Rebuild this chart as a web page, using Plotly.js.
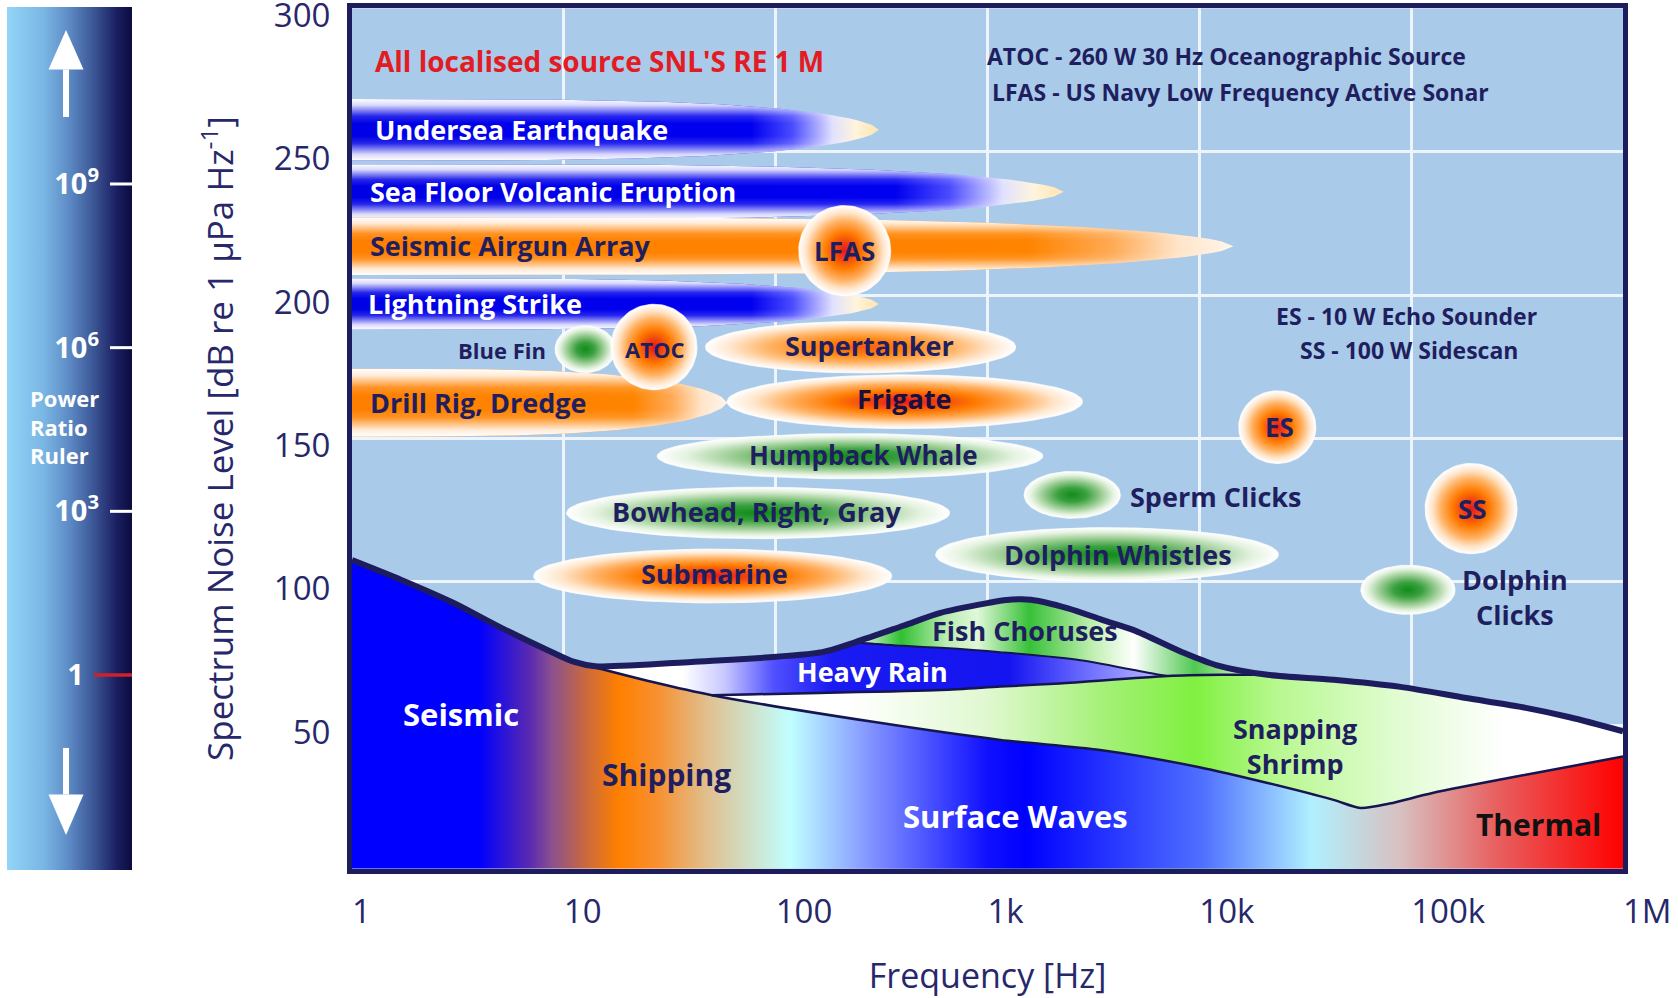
<!DOCTYPE html>
<html><head><meta charset="utf-8">
<script src="https://cdn.plot.ly/plotly-3.0.1.min.js"></script>
<style>html,body{margin:0;padding:0;background:#fff;}#chart{width:1678px;height:998px;}</style>
</head><body><div id="chart"></div>
<script>
// ================= DATA =================
const freqTicks = [1, 10, 100, 1000, 10000, 100000, 1000000];
const freqTickLabels = ['1', '10', '100', '1k', '10k', '100k', '1M'];
const levelTicks = [50, 100, 150, 200, 250, 300];

// upper envelope of ambient noise (thick line)
const envelopeFreq = [1, 1.72, 2.95, 5.1, 8.8, 11.2, 14.1, 40, 166, 240, 400, 600, 1000, 1230, 1600, 2400, 3500, 4900, 8300, 12000, 21000, 43000, 89000, 182000, 324000, 560000, 1000000];
const envelopeLevel = [107.6, 100.6, 93.0, 83.9, 75.5, 72.1, 70.6, 72.1, 75.5, 79.1, 84.7, 89.2, 92.6, 93.7, 93.8, 90.8, 86.7, 83.2, 75.5, 71.0, 67.6, 65.9, 63.4, 59.5, 56.5, 52.8, 47.9];

// top of seismic / shipping / surface waves / thermal
const baseFreq = [1, 1.72, 2.95, 5.1, 8.8, 11.2, 26.3, 50, 288, 1150, 3400, 10000, 21000, 43000, 57500, 79000, 126000, 380000, 1000000];
const baseLevel = [107.6, 100.6, 93.0, 83.9, 75.5, 72.1, 65.1, 60.5, 51.2, 44.9, 41.4, 35.4, 29.9, 24.0, 21.2, 22.7, 26.4, 33.3, 39.1];

// heavy rain lower edge (continues as snapping shrimp upper edge)
const rainLowFreq = [50, 141, 603, 1150, 2190, 7100, 12600, 21000];
const rainLowLevel = [60.5, 61.2, 62.3, 63.5, 64.6, 67.2, 67.6, 67.6];
// heavy rain upper edge under fish choruses
const rainHighFreq = [240, 400, 600, 1150, 2750, 6460, 7100];
const rainHighLevel = [78.9, 77.7, 77.0, 75.5, 72.7, 67.6, 67.2];

// broadband sources (extend from the left edge)
const bandNames = ['Undersea Earthquake', 'Sea Floor Volcanic Eruption', 'Seismic Airgun Array', 'Lightning Strike', 'Drill Rig, Dredge'];
const bandTipFreq = [307, 2290, 14500, 307, 59];
const bandLevelLow = [246.9, 226.3, 207.0, 187.9, 150.6];
const bandLevelHigh = [268.4, 245.7, 227.1, 205.9, 174.4];
const bandKind = ['natural', 'natural', 'man', 'natural', 'man'];

// localised sources
const srcNames = ['Blue Fin', 'ATOC', 'LFAS', 'Supertanker', 'Frigate', 'Humpback Whale', 'Bowhead, Right, Gray', 'Submarine', 'Sperm Clicks', 'Dolphin Whistles', 'ES', 'SS', 'Dolphin Clicks'];
const srcFreqLow = [9.1, 16.7, 128.5, 46.6, 58.9, 27.6, 10.3, 7.2, 1489, 569, 15350, 116400, 57900];
const srcFreqHigh = [17.5, 42.5, 349, 1361, 2805, 1824, 662, 353, 4236, 23600, 35480, 316000, 161100];
const srcLevelLow = [173.0, 167.0, 199.8, 172.9, 153.5, 136.0, 115.1, 92.7, 122.2, 100.1, 141.3, 109.8, 88.7];
const srcLevelHigh = [189.3, 196.8, 231.2, 190.8, 172.2, 151.7, 133.0, 111.4, 138.5, 118.9, 166.6, 141.3, 105.8];
const srcKind = ['bio', 'man', 'man', 'tanker', 'man', 'bio', 'bio', 'man', 'bio', 'bio', 'man', 'man', 'bio'];

// power ratio ruler
const rulerTicks = [1, 1e3, 1e6, 1e9];
const rulerTickLabels = ['1\u00a0\u00a0', '10<sup>3</sup>', '10<sup>6</sup>', '10<sup>9</sup>'];

// ================= BUILD =================
const L = Math.log10;
const NAVY = '#1f1f5f';
const traces = [];
const base = {type: 'scatter', mode: 'lines', hoverinfo: 'skip', showlegend: false};

// ruler bar
traces.push(Object.assign({}, base, {
  xaxis: 'x2', yaxis: 'y2', x: [0, 1, 1, 0, 0], y: [1e-6, 1e-6, 1e15, 1e15, 1e-6],
  line: {width: 0}, fill: 'toself',
  fillgradient: {type: 'horizontal', colorscale: [[0, '#93d5f8'], [0.3, '#79b5e3'], [0.5, '#5d8ac4'], [0.7, '#3a5494'], [0.88, '#1a1e60'], [1, '#0b0b3d']]}
}));
const wx = [], wy = [];
rulerTicks.slice(1).forEach(t => { wx.push(0.824, 1, null); wy.push(t, t, null); });
traces.push(Object.assign({}, base, {xaxis: 'x2', yaxis: 'y2', x: wx, y: wy, line: {color: '#ffffff', width: 3}}));
traces.push(Object.assign({}, base, {xaxis: 'x2', yaxis: 'y2', x: [0.696, 1], y: [rulerTicks[0], rulerTicks[0]], line: {color: '#d0202a', width: 3.5}}));
// ruler arrows (shaft + head), decoration placed on the ruler's own axes
function arrowTraces(shaftEnd, headBase, tip) {
  const cx = 0.472, hw = 0.14;
  return [
    Object.assign({}, base, {xaxis: 'x2', yaxis: 'y2', x: [cx, cx], y: [Math.pow(10, shaftEnd), Math.pow(10, headBase)], line: {color: '#ffffff', width: 6}}),
    Object.assign({}, base, {xaxis: 'x2', yaxis: 'y2', x: [cx - hw, cx + hw, cx, cx - hw], y: [Math.pow(10, headBase), Math.pow(10, headBase), Math.pow(10, tip), Math.pow(10, headBase)],
      line: {width: 0}, fill: 'toself', fillcolor: '#ffffff'})
  ];
}
arrowTraces(10.228, 11.1, 11.823).forEach(t => traces.push(t));
arrowTraces(-1.337, -2.19, -2.932).forEach(t => traces.push(t));

// composite curves
function pick(fs, ls, cond) { const x = [], y = []; fs.forEach((f, i) => { if (cond(f)) { x.push(f); y.push(ls[i]); } }); return [x, y]; }
const [e1x, e1y] = pick(envelopeFreq, envelopeLevel, f => f < 240);
const [e2x, e2y] = pick(envelopeFreq, envelopeLevel, f => f > 21000);
const [r2x, r2y] = pick(rainLowFreq, rainLowLevel, f => f > 7100);
const c1x = e1x.concat(rainHighFreq, r2x, e2x), c1y = e1y.concat(rainHighLevel, r2y, e2y);
const [b1x, b1y] = pick(baseFreq, baseLevel, f => f < 50);
const c2x = b1x.concat(rainLowFreq, e2x), c2y = b1y.concat(rainLowLevel, e2y);

const spl = {shape: 'spline', smoothing: 0.8, width: 0};
// fish choruses (under envelope)
traces.push(Object.assign({}, base, {x: envelopeFreq, y: envelopeLevel, line: spl, fill: 'tozeroy',
  fillgradient: {type: 'horizontal', colorscale: [[0, '#f0fff0'], [0.397, '#f0fff0'], [0.432, '#30c030'], [0.467, '#b8ecb0'], [0.492, '#e0f8d8'], [0.533, '#38c038'], [0.583, '#c0f0b0'], [0.615, '#ffffff'], [0.663, '#50c850'], [0.692, '#b0e8a0'], [0.72, '#e8f8e0'], [1, '#e8f8e0']]}}));
// heavy rain
traces.push(Object.assign({}, base, {x: c1x, y: c1y, line: spl, fill: 'tozeroy',
  fillgradient: {type: 'horizontal', colorscale: [[0, '#ffffff'], [0.26, '#ffffff'], [0.293, '#c8c8ff'], [0.332, '#5050ff'], [0.378, '#1a1af2'], [0.517, '#1414f0'], [0.58, '#7070ff'], [0.635, '#b8b8ff'], [1, '#b8b8ff']]}}));
// snapping shrimp
traces.push(Object.assign({}, base, {x: c2x, y: c2y, line: spl, fill: 'tozeroy',
  fillgradient: {type: 'horizontal', colorscale: [[0, '#ffffff'], [0.39, '#ffffff'], [0.5, '#e0f8d0'], [0.6, '#a0f070'], [0.663, '#80f040'], [0.728, '#b8f890'], [0.82, '#e0fcd0'], [0.908, '#ffffff'], [1, '#ffffff']]}}));
// seismic / shipping / surface waves / thermal
traces.push(Object.assign({}, base, {x: baseFreq, y: baseLevel, line: spl, fill: 'tozeroy',
  fillgradient: {type: 'horizontal', colorscale: [[0, '#0000ff'], [0.1, '#0000ff'], [0.14, '#5a2ab0'], [0.157, '#8a5090'], [0.183, '#c86840'], [0.21, '#ff8000'], [0.24, '#f89030'], [0.28, '#e0c090'], [0.345, '#c0ffff'], [0.41, '#8090ff'], [0.5, '#1010ff'], [0.53, '#0000ff'], [0.67, '#5070ff'], [0.755, '#b0f0ff'], [0.825, '#d8c0c0'], [0.9, '#e86060'], [1, '#ff0000']]}}));
// boundary lines
const [blx, bly] = pick(baseFreq, baseLevel, f => f >= 11.2);
traces.push(Object.assign({}, base, {x: blx, y: bly, line: {shape: 'spline', smoothing: 0.8, width: 2.5, color: '#151550'}}));
traces.push(Object.assign({}, base, {x: rainLowFreq, y: rainLowLevel, line: {shape: 'spline', smoothing: 0.8, width: 2.5, color: '#151550'}}));
traces.push(Object.assign({}, base, {x: rainHighFreq, y: rainHighLevel, line: {shape: 'spline', smoothing: 0.8, width: 2, color: '#151550'}}));
traces.push(Object.assign({}, base, {x: envelopeFreq, y: envelopeLevel, line: {shape: 'spline', smoothing: 0.8, width: 6, color: '#1c1c5e'}}));

// broadband bands
function bandPts(fTip, yLo, yHi, n) {
  const x0 = -0.25, x1 = L(fTip), yc = (yLo + yHi) / 2, H = (yHi - yLo) / 2;
  const top = [], bot = [];
  for (let k = 0; k <= n; k++) {
    const u = k / n, lx = x0 + u * (x1 - x0);
    const h = H * Math.pow(Math.max(0, 1 - Math.pow(u, 4)), 0.6);
    top.push([Math.pow(10, lx), yc + h]); bot.push([Math.pow(10, lx), yc - h]);
  }
  const pts = top.concat(bot.reverse()); pts.push(top[0]);
  return [pts.map(p => p[0]), pts.map(p => p[1])];
}
const blueBand = [[0, '#0000e4'], [0.78, '#0000f0'], [0.85, '#4a4aff'], [0.92, '#e0e0ff'], [0.96, '#fff4dc'], [1, '#ffe4b0']];
const orangeBand = [[0, '#ff7f00'], [0.78, '#ff8400'], [0.87, '#ffaa55'], [0.94, '#ffe4c8'], [1, '#fff6ec']];
const whiteEdge = [[0, 'rgba(255,255,255,1)'], [0.1, 'rgba(255,255,255,0.85)'], [0.28, 'rgba(255,255,255,0.15)'], [0.4, 'rgba(255,255,255,0)'], [0.6, 'rgba(255,255,255,0)'], [0.72, 'rgba(255,255,255,0.15)'], [0.9, 'rgba(255,255,255,0.85)'], [1, 'rgba(255,255,255,1)']];
bandNames.forEach((nm, i) => {
  const [bx, by] = bandPts(bandTipFreq[i], bandLevelLow[i], bandLevelHigh[i], 80);
  traces.push(Object.assign({}, base, {name: nm, x: bx, y: by, line: {width: 0}, fill: 'toself',
    fillgradient: {type: 'horizontal', colorscale: bandKind[i] === 'man' ? orangeBand : blueBand}}));
  traces.push(Object.assign({}, base, {x: bx, y: by, line: {width: 0}, fill: 'toself',
    fillgradient: {type: 'vertical', colorscale: whiteEdge}}));
});

// localised sources
const scales = {
  man: [[0, '#e41a1c'], [0.18, '#f04010'], [0.4, '#ff7a00'], [0.65, '#ffb060'], [0.85, '#ffe6cc'], [1, '#ffffff']],
  tanker: [[0, '#f85a10'], [0.3, '#ff8410'], [0.6, '#ffb466'], [0.85, '#ffe8d0'], [1, '#ffffff']],
  bio: [[0, '#108c18'], [0.3, '#3aa040'], [0.6, '#98cc90'], [0.85, '#e4f2e0'], [1, '#ffffff']]
};
srcNames.forEach((nm, i) => {
  const lc = (L(srcFreqLow[i]) + L(srcFreqHigh[i])) / 2, rx = (L(srcFreqHigh[i]) - L(srcFreqLow[i])) / 2;
  const yc = (srcLevelLow[i] + srcLevelHigh[i]) / 2, ry = (srcLevelHigh[i] - srcLevelLow[i]) / 2;
  const ex = [], ey = [];
  for (let k = 0; k <= 90; k++) { const t = 2 * Math.PI * k / 90; ex.push(Math.pow(10, lc + rx * Math.cos(t))); ey.push(yc + ry * Math.sin(t)); }
  traces.push(Object.assign({}, base, {name: nm, x: ex, y: ey, line: {width: 1.2, color: 'rgba(255,255,255,0.7)'}, fill: 'toself',
    fillgradient: {type: 'radial', colorscale: scales[srcKind[i]]}}));
});

// ================= TEXT =================
const labels = [
  {t: "All localised source SNL'S RE 1 M", f: 1.25, y: 281.5, a: 'left', s: 28, c: '#e31b23'},
  {t: 'ATOC - 260 W 30 Hz Oceanographic Source', f: 973, y: 283.4, a: 'left', s: 23},
  {t: 'LFAS - US Navy Low Frequency Active Sonar', f: 1030, y: 270.7, a: 'left', s: 23},
  {t: 'ES - 10 W Echo Sounder', f: 95500, y: 192.7, s: 23},
  {t: 'SS - 100 W Sidescan', f: 97700, y: 180.7, s: 23},
  {t: 'Undersea Earthquake', f: 1.25, y: 257.6, a: 'left', c: '#ffffff'},
  {t: 'Sea Floor Volcanic Eruption', f: 1.19, y: 236.0, a: 'left', c: '#ffffff'},
  {t: 'Seismic Airgun Array', f: 1.19, y: 217.3, a: 'left'},
  {t: 'Lightning Strike', f: 1.16, y: 197.2, a: 'left', c: '#ffffff'},
  {t: 'Drill Rig, Dredge', f: 1.19, y: 162.5, a: 'left'},
  {t: 'Blue Fin', f: 5.1, y: 180.7, s: 22},
  {t: 'ATOC', f: 26.7, y: 181.1, s: 22},
  {t: 'LFAS', f: 212, y: 215.5, s: 26},
  {t: 'Supertanker', f: 277, y: 182.3},
  {t: 'Frigate', f: 406, y: 164.0, c: '#1a1040'},
  {t: 'Humpback Whale', f: 261, y: 144.2, s: 26},
  {t: 'Bowhead, Right, Gray', f: 81.5, y: 124.4},
  {t: 'Submarine', f: 51.2, y: 103.1},
  {t: 'Sperm Clicks', f: 4630, y: 129.7, a: 'left'},
  {t: 'Dolphin Whistles', f: 4120, y: 109.5},
  {t: 'ES', f: 23900, y: 153.9, s: 26},
  {t: 'SS', f: 194000, y: 125.5, s: 26},
  {t: 'Dolphin<br>Clicks', f: 309000, y: 94.9},
  {t: 'Fish Choruses', f: 1500, y: 83.0},
  {t: 'Heavy Rain', f: 286, y: 68.8, c: '#ffffff'},
  {t: 'Seismic', f: 3.28, y: 53.8, s: 31, c: '#ffffff'},
  {t: 'Shipping', f: 30.6, y: 32.9, s: 30},
  {t: 'Surface Waves', f: 1350, y: 18.4, s: 31, c: '#ffffff'},
  {t: 'Snapping<br>Shrimp', f: 28400, y: 42.7},
  {t: 'Thermal', f: 400000, y: 15.4, s: 30, c: '#111111'}
];
const annotations = labels.map(l => ({
  x: L(l.f), y: l.y, xref: 'x', yref: 'y', text: l.t, showarrow: false,
  xanchor: l.a || 'center', yanchor: 'middle', align: 'center',
  font: {family: 'Open Sans, sans-serif', size: l.s || 27, color: l.c || NAVY, weight: 700}
}));
annotations.push({xref: 'paper', yref: 'paper', x: 28 / 1678, y: 1 - 426 / 998, xanchor: 'left', yanchor: 'middle', align: 'left',
  text: 'Power<br>Ratio<br>Ruler', showarrow: false, font: {family: 'Open Sans, sans-serif', size: 22, color: '#ffffff', weight: 700}});

const TXT = '#27286a';
const layout = {
  width: 1678, height: 998, margin: {l: 0, r: 0, t: 0, b: 0},
  paper_bgcolor: '#ffffff', plot_bgcolor: '#a9cae8', showlegend: false,
  font: {family: 'Open Sans, sans-serif', color: TXT},
  xaxis: {type: 'log', range: [0, 6], domain: [352 / 1678, 1623 / 1678], anchor: 'y',
    tickvals: freqTicks, ticktext: freqTickLabels, ticks: 'outside', ticklen: 39, tickcolor: 'rgba(0,0,0,0)',
    ticklabelposition: 'outside right', ticklabelshift: -3, ticklabelstandoff: 10, ticklabeloverflow: 'allow', tickfont: {size: 33, color: TXT},
    showgrid: true, gridcolor: '#eef4fb', gridwidth: 3, zeroline: false,
    showline: true, linecolor: '#1d1d5e', linewidth: 5, mirror: true,
    title: {text: 'Frequency [Hz]', font: {size: 34, color: TXT}, standoff: 36}, automargin: false, fixedrange: true},
  yaxis: {range: [0, 300], domain: [1 - 868.7 / 998, 1 - 8.3 / 998], anchor: 'x',
    tickvals: levelTicks, ticks: 'outside', ticklen: 10, tickcolor: 'rgba(0,0,0,0)', ticklabelshift: 7, ticklabeloverflow: 'allow',
    tickfont: {size: 33, color: TXT},
    showgrid: true, gridcolor: '#eef4fb', gridwidth: 3, zeroline: false,
    showline: true, linecolor: '#1d1d5e', linewidth: 5, mirror: true,
    title: {text: 'Spectrum Noise Level [dB re 1 μPa Hz<sup>-1</sup>]', font: {size: 35, color: TXT}, standoff: 31}, automargin: false, fixedrange: true},
  xaxis2: {domain: [7 / 1678, 132 / 1678], range: [0, 1], anchor: 'y2', visible: false, fixedrange: true},
  yaxis2: {type: 'log', domain: [1 - 870 / 998, 1 - 7 / 998], range: [-3.574, 12.244], anchor: 'x2', side: 'right',
    tickvals: rulerTicks, ticktext: rulerTickLabels, ticks: '', ticklabelposition: 'inside', ticklabelstandoff: 30,
    tickfont: {size: 29, color: '#ffffff', weight: 700}, showgrid: false, zeroline: false, showline: false, fixedrange: true},
  annotations: annotations
};
Plotly.newPlot('chart', traces, layout, {displayModeBar: false, staticPlot: true});
</script>
</body></html>
